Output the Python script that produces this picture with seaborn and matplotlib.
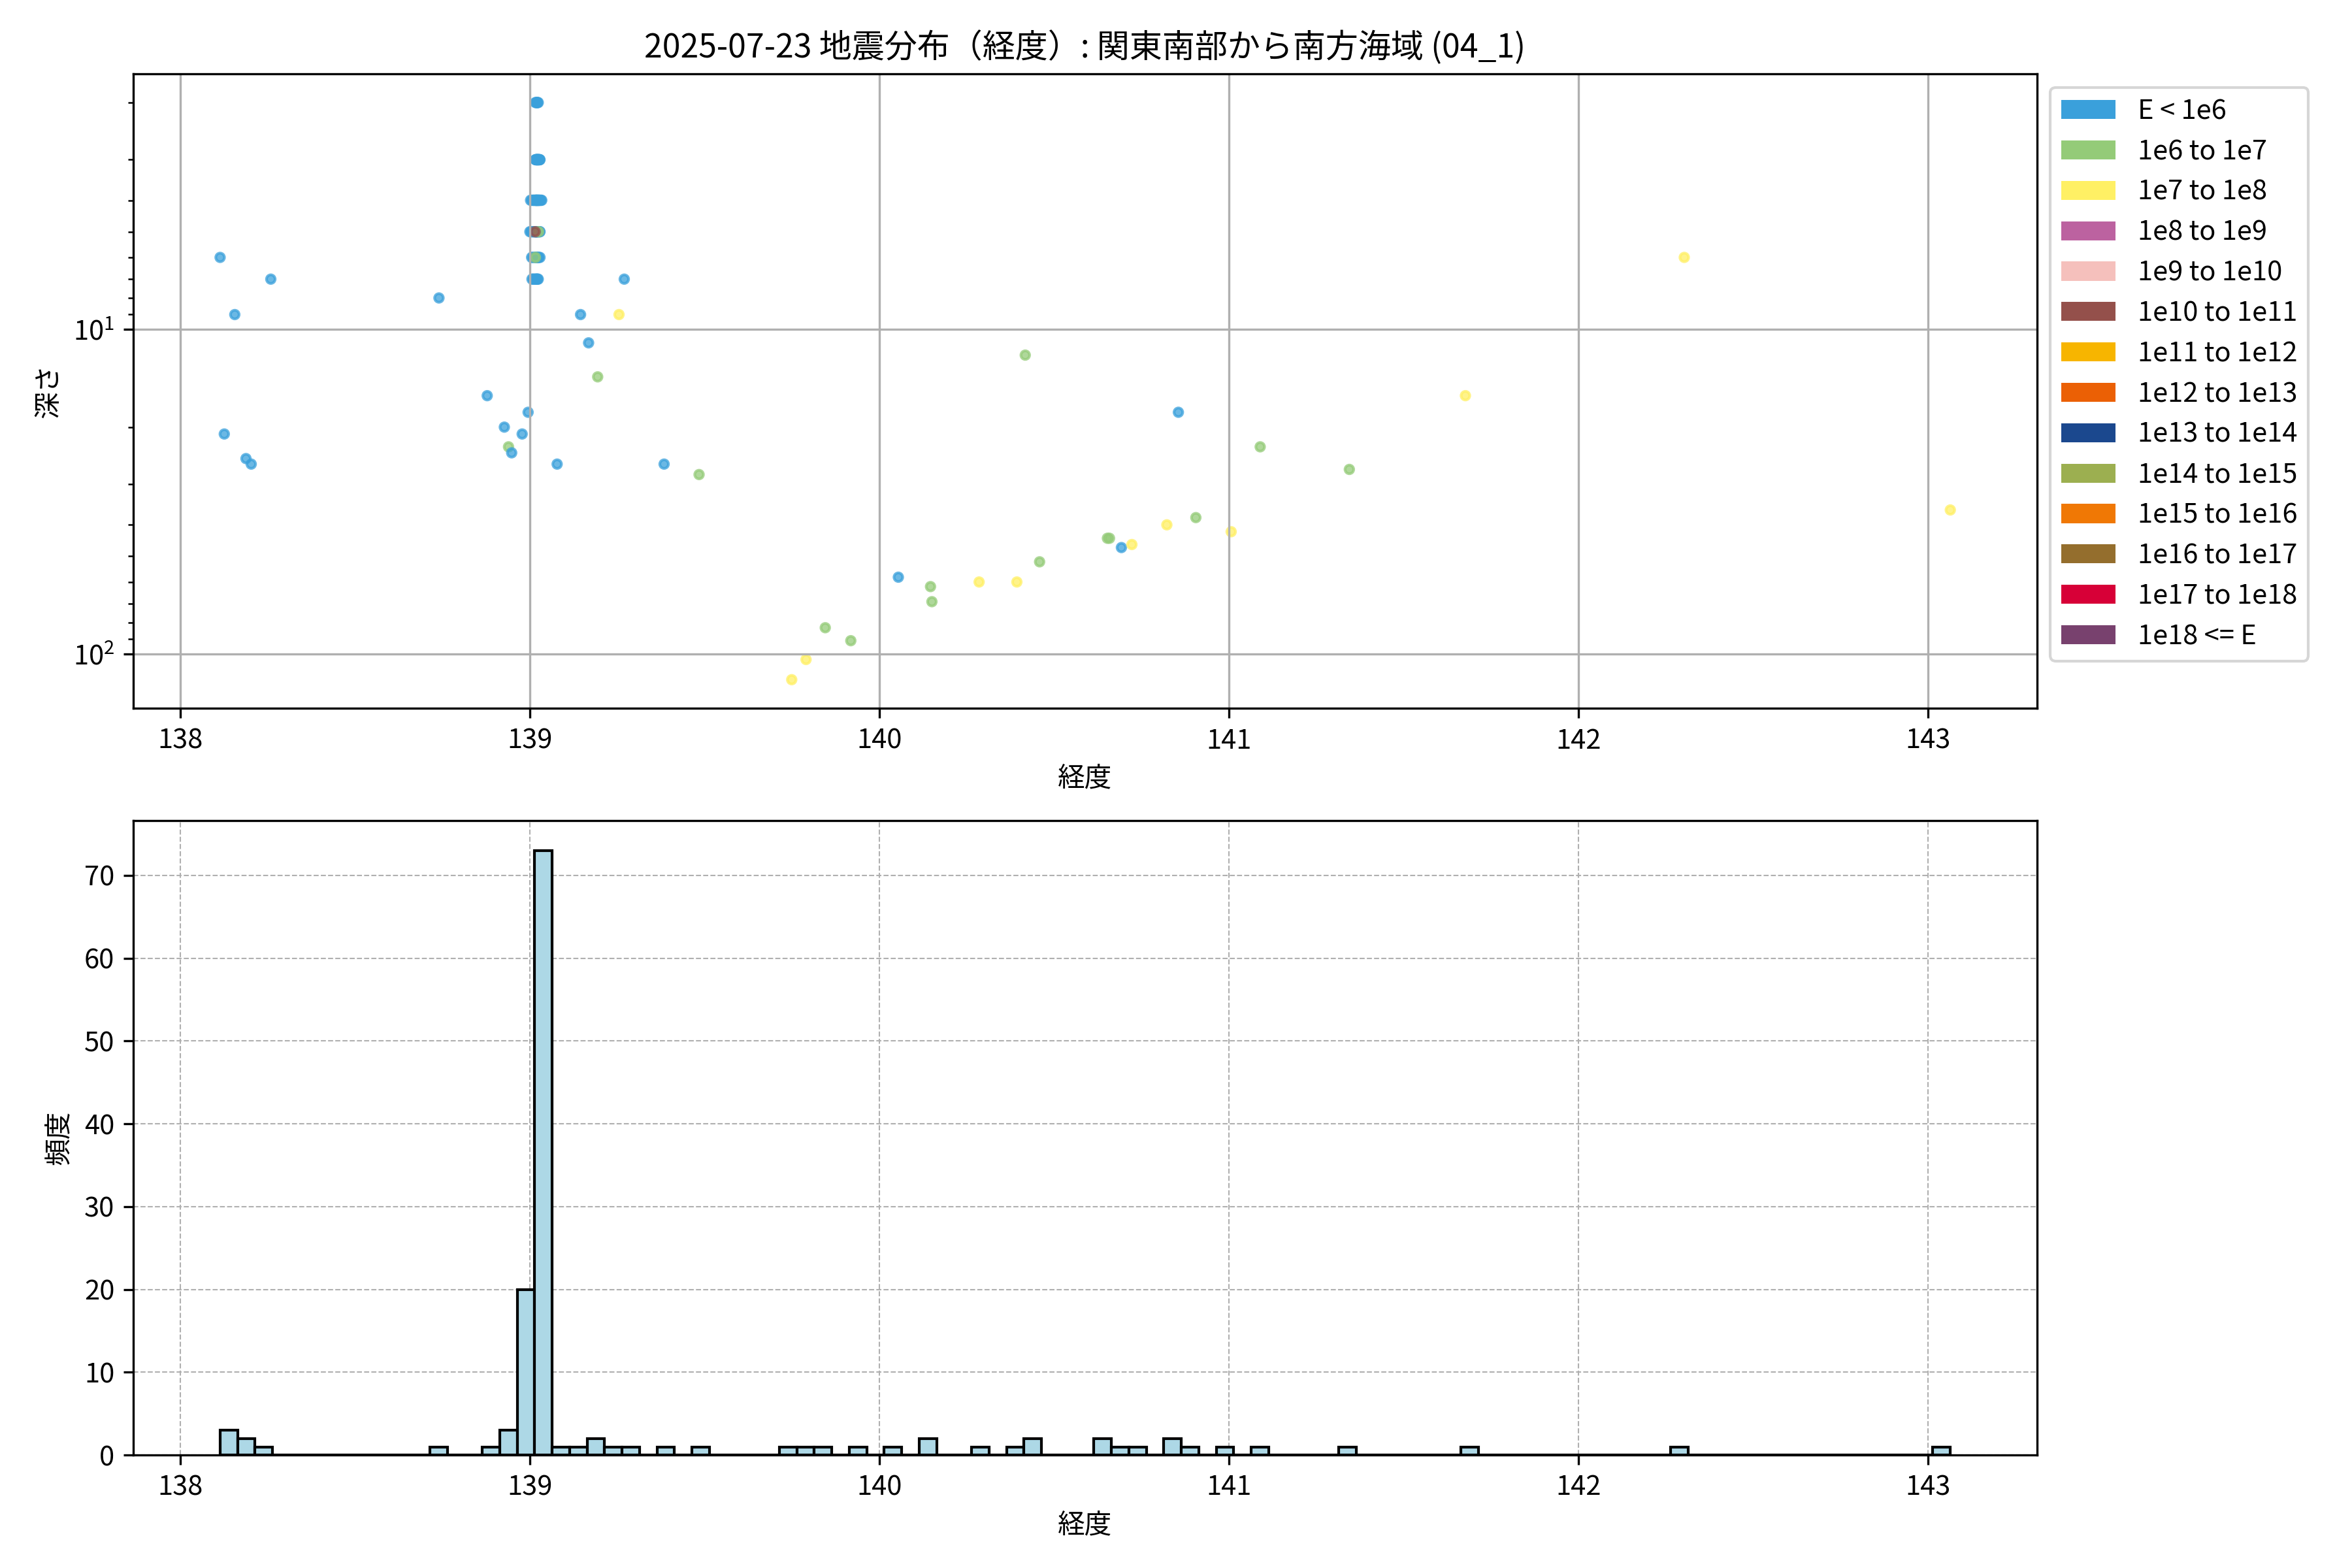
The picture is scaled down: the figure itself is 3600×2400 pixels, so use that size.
import pandas as pd
import matplotlib.pyplot as plt
import numpy as np
import seaborn as sns
from matplotlib.patches import Patch

plt.rcParams['font.family'] = ['Noto Sans CJK JP', 'DejaVu Sans']

# energy classes and colours
classes = ['E < 1e6', '1e6 to 1e7', '1e7 to 1e8', '1e8 to 1e9', '1e9 to 1e10',
           '1e10 to 1e11', '1e11 to 1e12', '1e12 to 1e13', '1e13 to 1e14',
           '1e14 to 1e15', '1e15 to 1e16', '1e16 to 1e17', '1e17 to 1e18', '1e18 <= E']
colors = ['#3aa0db', '#94cb78', '#fff064', '#bc62a0', '#f5c0bc', '#94504b', '#f7b500',
          '#eb6005', '#1b488e', '#9caf50', '#f07805', '#946e2d', '#d70037', '#78416e']

# scattered events (longitude, depth km, energy class index)
lon = [138.114, 138.126, 138.156, 138.188, 138.203, 138.259, 138.740, 138.878,
       138.927, 138.939, 138.948, 138.978, 138.995, 139.078, 139.145, 139.168,
       139.194, 139.255, 139.270, 139.384, 139.484, 139.749, 139.790, 139.845,
       139.918, 140.054, 140.146, 140.150, 140.285, 140.393, 140.417, 140.458,
       140.652, 140.658, 140.692, 140.722, 140.822, 140.855, 140.905, 141.006,
       141.089, 141.344, 141.676, 142.302, 143.063]
depth = [6, 21, 9, 25, 26, 7, 8, 16,
         20, 23, 24, 21, 18, 26, 9, 11,
         14, 9, 7, 26, 28, 120, 104, 83,
         91, 58, 62, 69, 60, 60, 12, 52,
         44, 44, 47, 46, 40, 18, 38, 42,
         23, 27, 16, 6, 36]
cls = [0, 0, 0, 0, 0, 0, 0, 0,
       0, 1, 0, 0, 0, 0, 0, 0,
       1, 2, 0, 0, 1, 2, 2, 1,
       1, 0, 1, 1, 2, 2, 1, 1,
       1, 1, 0, 2, 2, 0, 1, 2,
       1, 1, 2, 2, 2]

# swarm near 139.0E (shallow, mostly small)
swarm_lon = [139.016, 139.018, 139.020, 139.021, 139.022, 139.024,
             139.016, 139.017, 139.018, 139.019, 139.020, 139.021, 139.022, 139.023, 139.024, 139.025,
             139.026, 139.027, 139.028, 139.029, 139.020, 139.022, 139.024, 139.018, 139.021, 139.026,
             139.002, 139.005, 139.008, 139.010, 139.011, 139.013,
             139.015, 139.016, 139.017, 139.018, 139.019, 139.020, 139.021, 139.022, 139.023, 139.024,
             139.025, 139.026, 139.027, 139.028, 139.030, 139.032, 139.034, 139.020, 139.017,
             139.015, 139.000, 139.003, 139.006, 139.009, 139.011, 139.012,
             139.016, 139.017, 139.018, 139.019, 139.020, 139.021, 139.022, 139.024, 139.026, 139.028,
             139.025, 139.029, 139.019,
             139.005, 139.008, 139.012,
             139.016, 139.018, 139.020, 139.022, 139.024, 139.026, 139.029, 139.020, 139.016,
             139.006, 139.009, 139.012,
             139.016, 139.018, 139.020, 139.022, 139.024]
swarm_depth = [2, 2, 2, 2, 2, 2,
               3, 3, 3, 3, 3, 3, 3, 3, 3, 3,
               3, 3, 3, 3, 3, 3, 3, 3, 3, 3,
               4, 4, 4, 4, 4, 4,
               4, 4, 4, 4, 4, 4, 4, 4, 4, 4,
               4, 4, 4, 4, 4, 4, 4, 4, 4,
               5, 5, 5, 5, 5, 5, 5,
               5, 5, 5, 5, 5, 5, 5, 5, 5, 5,
               5, 5, 5,
               6, 6, 6,
               6, 6, 6, 6, 6, 6, 6, 6, 6,
               7, 7, 7,
               7, 7, 7, 7, 7]
swarm_cls = [0, 0, 0, 0, 0, 0,
             0, 0, 0, 0, 0, 0, 0, 0, 0, 0,
             0, 0, 0, 0, 0, 0, 0, 0, 0, 0,
             0, 0, 0, 0, 0, 0,
             0, 0, 0, 0, 0, 0, 0, 0, 0, 0,
             0, 0, 0, 0, 0, 0, 0, 0, 2,
             5, 0, 0, 0, 0, 0, 0,
             0, 0, 0, 0, 0, 0, 0, 0, 0, 0,
             1, 0, 0,
             0, 0, 0,
             1, 0, 0, 0, 0, 0, 0, 0, 0,
             0, 0, 0,
             0, 0, 0, 0, 0]

df = pd.DataFrame({
    'lon': lon + swarm_lon,
    'depth': depth + swarm_depth,
    'cls': [classes[i] for i in cls + swarm_cls],
})
# drawing order inside the swarm: yellow hidden underneath, green and brown on top
shallow = df['depth'] <= 7
df['order'] = 1
df.loc[shallow & (df['cls'] == classes[2]), 'order'] = 0
df.loc[shallow & (df['cls'] == classes[1]), 'order'] = 2
df.loc[df['cls'] == classes[5], 'order'] = 3
df = df.sort_values('order', kind='stable')

fig, (ax1, ax2) = plt.subplots(2, 1, figsize=(12, 8), dpi=300)
fig.subplots_adjust(left=0.0568, right=0.866, top=0.953, bottom=0.072, hspace=0.176)

sns.scatterplot(data=df, x='lon', y='depth', hue='cls', hue_order=classes,
                palette=dict(zip(classes, colors)), s=10, alpha=0.75,
                edgecolor='face', linewidth=1, legend=False, ax=ax1)
ax1.set_yscale('log')
ax1.invert_yaxis()
ax1.grid(True, which='major')
ax1.set_xlabel('経度')
ax1.set_ylabel('深さ')
ax1.set_title('2025-07-23 地震分布（経度）: 関東南部から南方海域 (04_1)')
handles = [Patch(facecolor=c, label=l) for c, l in zip(colors, classes)]
ax1.legend(handles=handles, loc='upper left', bbox_to_anchor=(1, 1))

sns.histplot(x=df['lon'], binwidth=0.05, color='lightblue', edgecolor='black',
             alpha=1, linewidth=1, ax=ax2)
ax2.set_xlim(ax1.get_xlim())
ax2.grid(True, linestyle='--', linewidth=0.5)
ax2.set_axisbelow(True)
ax2.set_xlabel('経度')
ax2.set_ylabel('頻度')

plt.savefig('out.png')
